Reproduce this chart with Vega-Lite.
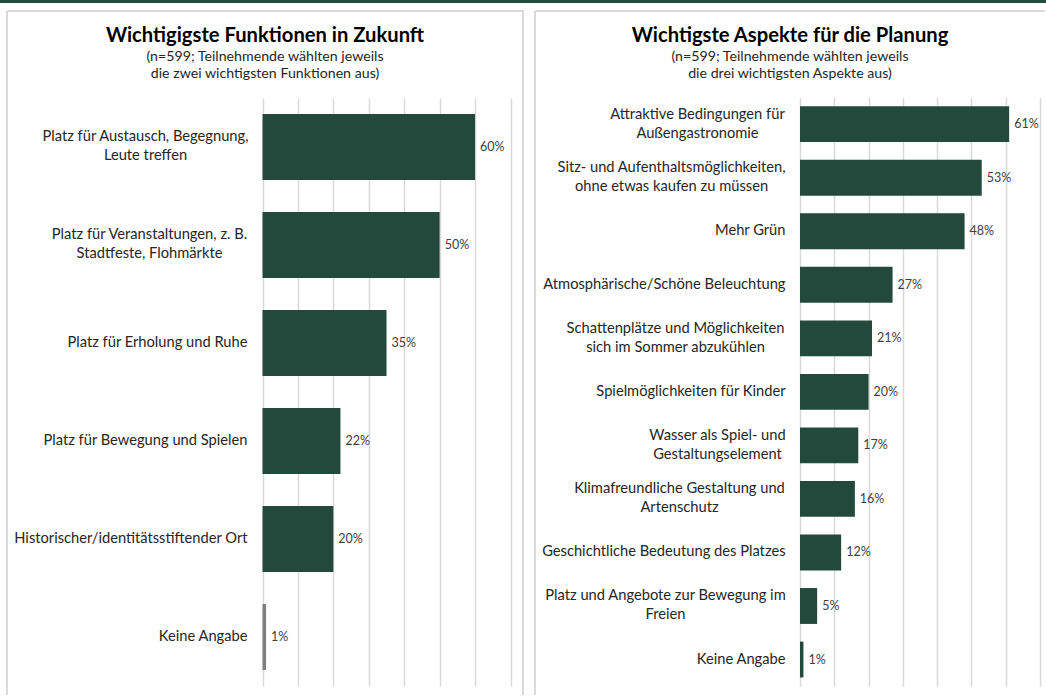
{
  "$schema": "https://vega.github.io/schema/vega-lite/v6.json",
  "padding": 0,
  "background": "white",
  "config": {"font": "Lato", "view": {"stroke": null}},
  "bounds": "flush",
  "spacing": 8,
  "vconcat": [
    {
      "width": 1046,
      "height": 3,
      "view": {"fill": "#22493b", "stroke": null},
      "data": {"values": [{}]},
      "mark": {"type": "point", "opacity": 0, "size": 0},
      "encoding": {}
    },
    {
      "bounds": "flush",
      "spacing": 6,
      "hconcat": [
        {
          "width": 1,
          "height": 10,
          "view": {"stroke": null},
          "data": {"values": [{}]},
          "mark": {"type": "point", "opacity": 0, "size": 0},
          "encoding": {}
        },
        {
          "bounds": "flush",
          "spacing": 12,
          "hconcat": [
            {
              "width": 516,
              "height": 684,
              "view": {"stroke": "#d9d9d9", "strokeWidth": 2, "strokeDash": [1200, 516, 684, 0]},
              "title": {
                "text": "Wichtigigste Funktionen in Zukunft",
                "subtitle": ["(n=599; Teilnehmende wählten jeweils", "die zwei wichtigsten Funktionen aus)"],
                "anchor": "middle",
                "frame": "group",
                "offset": -70,
                "fontSize": 20.2,
                "fontWeight": "bold",
                "color": "#000000",
                "subtitleFontSize": 14.2,
                "subtitleColor": "#262626",
                "subtitlePadding": 4,
                "subtitleLineHeight": 17
              },
              "data": {"values": [
                {"k": "Platz für Austausch, Begegnung,\nLeute treffen", "v": 0.60},
                {"k": "Platz für Veranstaltungen, z. B.\nStadtfeste, Flohmärkte", "v": 0.50},
                {"k": "Platz für Erholung und Ruhe", "v": 0.35},
                {"k": "Platz für Bewegung und Spielen", "v": 0.22},
                {"k": "Historischer/identitätsstiftender Ort", "v": 0.20},
                {"k": "Keine Angabe", "v": 0.01}
              ]},
              "encoding": {
                "y": {
                  "field": "k", "type": "nominal", "sort": null,
                  "scale": {"range": [87, 675], "paddingInner": 0.327, "paddingOuter": 0.163},
                  "axis": {"title": null, "orient": "left", "offset": -255, "domain": false, "ticks": false, "tickSize": 0,
                    "labelFontSize": 14.7, "labelColor": "#262626", "labelLineHeight": 19,
                    "labelExpr": "split(datum.label, '\\n')", "labelLimit": 0, "labelBaseline": "middle",
                    "labelAlign": {"condition": {"test": "indexof(datum.value, '\\n') >= 0", "value": "center"}, "value": "right"},
                    "labelOffset": {"condition": {"test": "indexof(datum.value, '\\n') >= 0", "value": -9.5}, "value": 0},
                    "labelPadding": {"condition": [
                      {"test": "indexof(datum.value, 'Austausch') >= 0", "value": 117},
                      {"test": "indexof(datum.value, 'Veranstaltungen') >= 0", "value": 113}
                    ], "value": 15}}
                },
                "x": {
                  "field": "v", "type": "quantitative",
                  "scale": {"domain": [0, 0.7], "range": [255.5, 503.5], "nice": false},
                  "axis": {"orient": "top", "title": null, "labels": false, "ticks": false, "domain": false, "grid": true,
                    "values": [0, 0.1, 0.2, 0.3, 0.4, 0.5, 0.6, 0.7], "gridColor": "#d9d9d9", "gridWidth": 1.5}
                }
              },
              "layer": [
                {
                  "mark": {"type": "bar"},
                  "encoding": {"color": {"condition": {"test": "datum.v < 0.02", "value": "#7f7f7f"}, "value": "#22493b"}}
                },
                {
                  "mark": {"type": "text", "align": "left", "baseline": "middle", "dx": 5, "fontSize": 12.5, "color": "#404040"},
                  "encoding": {"text": {"field": "v", "type": "quantitative", "format": ".0%"}}
                }
              ]
            },
            {
              "width": 510,
              "height": 684,
              "view": {"stroke": "#d9d9d9", "strokeWidth": 2, "strokeDash": [510, 1194, 684, 0]},
              "title": {
                "text": "Wichtigste Aspekte für die Planung",
                "subtitle": ["(n=599; Teilnehmende wählten jeweils", "die drei wichtigsten Aspekte aus)"],
                "anchor": "middle",
                "frame": "group",
                "offset": -70,
                "fontSize": 20.2,
                "fontWeight": "bold",
                "color": "#000000",
                "subtitleFontSize": 14.2,
                "subtitleColor": "#262626",
                "subtitlePadding": 4,
                "subtitleLineHeight": 17
              },
              "data": {"values": [
                {"k": "Attraktive Bedingungen für\nAußengastronomie", "v": 0.61},
                {"k": "Sitz- und Aufenthaltsmöglichkeiten,\nohne etwas kaufen zu müssen", "v": 0.53},
                {"k": "Mehr Grün", "v": 0.48},
                {"k": "Atmosphärische/Schöne Beleuchtung", "v": 0.27},
                {"k": "Schattenplätze und Möglichkeiten\nsich im Sommer abzukühlen", "v": 0.21},
                {"k": "Spielmöglichkeiten für Kinder", "v": 0.20},
                {"k": "Wasser als Spiel- und\nGestaltungselement", "v": 0.17},
                {"k": "Klimafreundliche Gestaltung und\nArtenschutz", "v": 0.16},
                {"k": "Geschichtliche Bedeutung des Platzes", "v": 0.12},
                {"k": "Platz und Angebote zur Bewegung im\nFreien", "v": 0.05},
                {"k": "Keine Angabe", "v": 0.01}
              ]},
              "encoding": {
                "y": {
                  "field": "k", "type": "nominal", "sort": null,
                  "scale": {"range": [86.4, 675.3], "paddingInner": 0.33, "paddingOuter": 0.165},
                  "axis": {"title": null, "orient": "left", "offset": -265, "domain": false, "ticks": false, "tickSize": 0,
                    "labelFontSize": 14.7, "labelColor": "#262626", "labelLineHeight": 19,
                    "labelExpr": "split(datum.label, '\\n')", "labelLimit": 0, "labelBaseline": "middle",
                    "labelAlign": {"condition": {"test": "indexof(datum.value, '\\n') >= 0", "value": "center"}, "value": "right"},
                    "labelOffset": {"condition": {"test": "indexof(datum.value, '\\n') >= 0", "value": -9.5}, "value": 0},
                    "labelPadding": {"condition": [
                      {"test": "indexof(datum.value, 'Attraktive') >= 0", "value": 103},
                      {"test": "indexof(datum.value, 'Sitz-') >= 0", "value": 129},
                      {"test": "indexof(datum.value, 'Schattenpl') >= 0", "value": 125},
                      {"test": "indexof(datum.value, 'Wasser') >= 0", "value": 83},
                      {"test": "indexof(datum.value, 'Klimafreundliche') >= 0", "value": 121},
                      {"test": "indexof(datum.value, 'Angebote') >= 0", "value": 135}
                    ], "value": 15}}
                },
                "x": {
                  "field": "v", "type": "quantitative",
                  "scale": {"domain": [0, 0.7], "range": [265, 505], "nice": false},
                  "axis": {"orient": "top", "title": null, "labels": false, "ticks": false, "domain": false, "grid": true,
                    "values": [0, 0.1, 0.2, 0.3, 0.4, 0.5, 0.6, 0.7], "gridColor": "#d9d9d9", "gridWidth": 1.5}
                }
              },
              "layer": [
                {"mark": {"type": "bar", "color": "#22493b"}},
                {
                  "mark": {"type": "text", "align": "left", "baseline": "middle", "dx": 5, "fontSize": 12.5, "color": "#404040"},
                  "encoding": {"text": {"field": "v", "type": "quantitative", "format": ".0%"}}
                }
              ]
            }
          ]
        }
      ]
    }
  ]
}
